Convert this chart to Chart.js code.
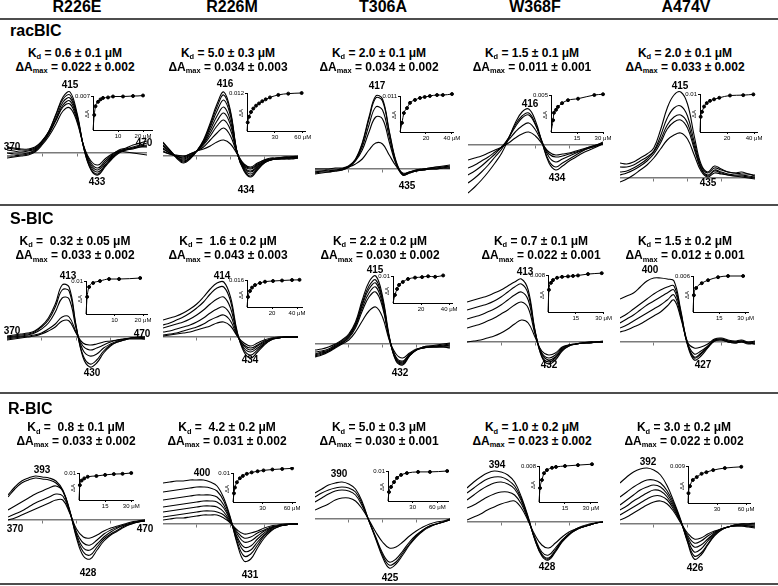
<!DOCTYPE html>
<html><head><meta charset="utf-8">
<script src="https://cdn.jsdelivr.net/npm/chart.js@4.4.1/dist/chart.umd.min.js"></script>
<style>
html,body{margin:0;padding:0;background:#fff;}
#fig{position:relative;width:778px;height:586px;overflow:hidden;font-family:"Liberation Sans",Arial,sans-serif;color:#000;background:#fff;}
.t{position:absolute;white-space:nowrap;font-weight:bold;line-height:1;}
.da{position:absolute;white-space:nowrap;font-size:6px;line-height:1;transform:translate(-50%,-50%) rotate(-90deg);}
.rule{position:absolute;left:0;width:778px;height:2px;background:#4d4d4d;}
canvas{position:absolute;}
.sb{font-size:0.62em;position:relative;top:0.32em;}
</style></head><body><div id="fig"></div>
<script>
// ---------------- DATA ----------------
const mutants = ['R226E', 'R226M', 'T306A', 'W368F', 'A474V'];
const ligands = ['racBIC', 'S-BIC', 'R-BIC'];
const wavelengths = [370,375,380,385,390,395,400,405,410,415,420,425,430,435,440,445,450,455,460,465,470];
const axisEnds = ['370', '470'];

const kdRac  = ['0.6 ± 0.1', '5.0 ± 0.3', '2.0 ± 0.1', '1.5 ± 0.1', '2.0 ± 0.1'];
const dAmaxRac = ['0.022 ± 0.002', '0.034 ± 0.003', '0.034 ± 0.002', '0.011 ± 0.001', '0.033 ± 0.002'];
const kdS   = [' 0.32 ± 0.05', ' 1.6 ± 0.2', '2.2 ± 0.2', '0.7 ± 0.1', '1.5 ± 0.2'];
const dAmaxS = ['0.033 ± 0.002', '0.043 ± 0.003', '0.030 ± 0.002', '0.022 ± 0.001', '0.012 ± 0.001'];
const kdR   = [' 0.8 ± 0.1', ' 4.2 ± 0.2', '5.0 ± 0.3', '1.0 ± 0.2', '3.0 ± 0.2'];
const dAmaxR = ['0.033 ± 0.002', '0.031 ± 0.002', '0.030 ± 0.001', '0.023 ± 0.002', '0.022 ± 0.002'];

// peak / trough wavelength labels (nm)
const peaksRac = [['415','433'], ['416','434'], ['417','435'], ['416','434'], ['415','435']];
const peaksS   = [['413','430'], ['414','434'], ['415','432'], ['413','432'], ['400','427']];
const peaksR   = [['393','428'], ['400','431'], ['390','425'], ['394','428'], ['392','426']];

// difference spectra (relative ΔA, arbitrary units), one array per titration step
const racR226E = [
 [3,2,1,2,4,11,22,39,56,61,40,4,-17,-22,-14,-6,0,3,5,7,8],
 [5,4,3,3,5,12,22,38,54,58,38,4,-16,-21,-13,-5,1,4,6,8,10],
 [0,-1,-1,0,3,10,20,35,51,55,37,5,-14,-19,-12,-4,1,3,4,6,7],
 [-3,-3,-2,-1,2,9,19,33,48,52,35,5,-12,-17,-10,-3,2,4,5,6,6],
 [6,5,4,4,6,12,21,33,46,49,33,6,-10,-15,-8,-2,3,5,8,10,12],
 [-5,-4,-3,-2,1,8,17,29,42,45,31,6,-8,-12,-6,-1,2,1,0,-1,-2]];
const racR226M = [
 [14,6,-2,-7,-3,5,16,33,52,64,45,3,-15,-21,-14,-7,-4,-3,-3,-3,-2],
 [13,6,-1,-6,-2,5,15,31,49,61,43,3,-14,-20,-13,-7,-4,-3,-3,-2,-2],
 [11,5,-1,-5,-2,5,14,29,45,56,40,3,-13,-18,-12,-6,-4,-3,-2,-2,-2],
 [10,4,-1,-4,-1,5,13,26,40,49,35,3,-12,-16,-11,-6,-3,-3,-2,-2,-1],
 [8,3,0,-3,0,5,12,23,35,43,31,3,-11,-15,-10,-5,-3,-2,-2,-1,-1],
 [7,3,0,-2,1,5,11,20,30,36,26,3,-10,-13,-9,-5,-3,-2,-2,-1,-1],
 [5,2,0,-1,2,5,9,16,23,28,20,2,-9,-12,-8,-4,-3,-2,-1,-1,-1],
 [4,2,1,0,2,5,7,10,14,16,12,2,-8,-11,-7,-4,-2,-2,-1,-1,0]];
const racT306A = [
 [-2,-2,-1,-1,0,3,10,26,52,73,70,38,8,-5,-3,-1,0,1,2,3,4],
 [-4,-3,-3,-2,-1,2,9,25,50,71,68,37,7,-6,-4,-2,-1,0,1,2,2],
 [0,0,0,1,1,3,9,22,44,62,59,32,6,-5,-3,-1,0,1,2,2,3],
 [-5,-4,-3,-2,-1,2,8,19,37,52,50,27,5,-6,-4,-2,-1,0,0,1,1],
 [-3,-2,-2,-1,0,2,5,10,19,26,25,14,3,-4,-3,-2,-1,0,0,1,1]];
const racW368F = [
 [-48,-42,-35,-27,-18,-8,6,22,33,36,24,2,-18,-25,-21,-16,-12,-8,-5,-2,1],
 [-38,-33,-27,-20,-12,-4,7,20,29,32,21,2,-16,-22,-18,-14,-10,-6,-3,-1,2],
 [-30,-26,-21,-15,-9,-2,7,18,27,30,20,3,-12,-17,-14,-11,-8,-5,-2,0,3],
 [-23,-20,-16,-12,-7,-2,5,13,19,22,15,2,-9,-12,-11,-9,-7,-5,-3,-1,1],
 [-15,-13,-11,-8,-5,-2,2,7,11,13,9,1,-7,-10,-9,-8,-6,-4,-2,0,2]];
const racA474V = [
 [15,14,16,20,24,30,48,70,83,86,74,42,14,6,12,9,6,5,6,4,3],
 [11,11,13,17,21,27,42,60,70,72,62,36,12,5,10,8,6,5,4,4,2],
 [6,7,10,14,19,26,38,53,61,63,55,32,10,3,8,6,4,3,3,2,1],
 [3,5,8,12,17,24,35,49,56,58,50,29,9,2,7,5,3,2,2,1,0],
 [-4,-1,3,8,13,20,29,38,43,45,39,23,7,1,5,4,3,2,1,0,-1]];

const sR226E = [
 [1,2,3,4,6,11,19,33,52,50,12,-20,-30,-26,-16,-9,-5,-3,-1,0,0],
 [0,1,2,3,5,10,17,30,47,46,11,-18,-27,-23,-14,-8,-5,-3,-1,-1,0],
 [-1,0,1,2,4,8,14,25,39,38,9,-13,-19,-17,-11,-7,-4,-2,-1,-1,-1],
 [-2,-1,0,1,2,4,8,13,20,20,5,-9,-13,-11,-8,-5,-3,-2,-1,-1,-2],
 [-3,-2,-1,0,1,3,6,10,16,16,4,-6,-8,-7,-5,-4,-3,-2,-2,-2,-2]];
const sR226M = [
 [17,19,21,24,28,33,40,48,54,55,40,5,-15,-21,-15,-8,-3,-1,0,0,0],
 [12,14,17,20,24,29,35,43,49,50,36,4,-13,-18,-13,-7,-3,-1,0,0,0],
 [9,11,13,15,18,22,27,33,38,40,29,3,-11,-15,-11,-6,-2,-1,0,0,0],
 [5,6,8,10,12,15,19,24,28,30,22,2,-9,-13,-9,-5,-2,-1,0,0,0],
 [2,3,4,6,8,10,13,17,20,22,16,1,-8,-11,-8,-4,-2,-1,0,0,0],
 [1,2,3,4,5,7,9,11,14,15,11,1,-6,-9,-6,-3,-1,0,0,0,0]];
const sT306A = [
 [-6,-5,-3,0,4,10,22,44,62,68,48,8,-17,-21,-12,-6,-3,-2,-1,0,1],
 [-8,-7,-5,-1,3,9,20,41,58,64,45,7,-16,-20,-12,-6,-3,-2,-2,-1,0],
 [-10,-8,-6,-2,2,8,19,39,55,61,43,6,-15,-19,-11,-6,-4,-3,-2,-2,-1],
 [-11,-9,-7,-3,1,7,18,36,51,57,40,6,-14,-18,-11,-6,-4,-3,-3,-2,-2],
 [-12,-10,-7,-3,1,6,16,33,47,52,37,5,-13,-17,-10,-6,-4,-3,-3,-3,-3],
 [-13,-11,-8,-4,0,4,12,23,33,37,27,4,-10,-14,-9,-5,-4,-3,-3,-3,-4]];
const sW368F = [
 [40,42,44,46,49,52,56,60,63,52,12,-15,-22,-18,-9,-4,-2,-1,0,0,0],
 [32,34,36,38,41,45,50,55,58,48,11,-14,-20,-16,-8,-4,-2,-1,0,0,0],
 [23,25,27,30,33,37,42,47,50,42,10,-12,-18,-15,-7,-3,-2,-1,-1,0,0],
 [14,16,18,21,24,28,32,37,40,34,8,-11,-16,-13,-6,-3,-2,-1,-1,0,0],
 [0,1,2,4,6,9,13,18,22,19,5,-9,-13,-11,-5,-3,-2,-1,-1,0,1]];
const sA474V = [
 [43,46,49,55,61,64,64,63,61,32,0,-6,-5,-2,3,4,2,1,2,0,1],
 [24,28,33,38,43,48,52,55,56,30,-2,-16,-12,-5,2,3,1,0,1,-1,0],
 [19,23,27,32,37,41,45,49,52,28,-3,-18,-14,-6,1,2,0,-1,0,-2,-1],
 [14,17,21,25,29,33,37,42,47,26,-2,-15,-11,-5,1,2,0,-1,0,-1,-2],
 [10,12,15,18,22,26,30,36,42,24,-1,-12,-9,-4,2,3,1,0,1,-1,-2]];

const rR226E = [
 [25,33,39,42,44,43,42,39,30,10,-18,-36,-39,-30,-21,-15,-11,-7,-4,-2,-1],
 [23,31,37,40,42,41,40,37,29,9,-16,-32,-35,-27,-19,-14,-10,-6,-4,-2,-1],
 [10,14,18,22,26,29,32,34,29,9,-14,-28,-30,-24,-17,-12,-8,-5,-3,-2,-1],
 [3,6,9,13,17,20,23,26,24,8,-12,-23,-25,-20,-14,-10,-7,-5,-3,-1,0],
 [0,2,5,8,11,14,17,20,20,7,-9,-17,-18,-15,-11,-8,-6,-4,-2,-1,0]];
const rR226M = [
 [41,42,43,43,44,44,44,42,38,26,6,-20,-37,-35,-24,-14,-7,-3,-1,0,0],
 [32,33,34,35,36,37,37,36,33,23,5,-18,-32,-30,-21,-12,-6,-3,-1,0,0],
 [24,25,26,27,28,29,29,29,27,19,4,-15,-27,-26,-18,-11,-5,-2,-1,0,0],
 [17,18,19,20,21,22,23,23,22,16,3,-13,-23,-22,-15,-9,-4,-2,-1,0,0],
 [12,13,14,15,16,17,18,18,17,12,2,-10,-18,-17,-12,-7,-4,-2,-1,0,0],
 [7,8,9,10,11,12,13,13,12,9,1,-8,-14,-13,-9,-6,-3,-2,-1,0,0],
 [4,5,6,6,7,8,9,9,9,6,1,-6,-10,-9,-7,-4,-2,-1,0,0,0]];
const rT306A = [
 [26,30,34,36,37,35,30,17,-2,-20,-38,-49,-45,-36,-26,-18,-12,-8,-5,-3,0],
 [22,26,29,31,32,31,27,15,-2,-19,-36,-46,-43,-34,-25,-17,-11,-7,-5,-3,-1],
 [17,21,25,28,29,28,24,13,-2,-18,-34,-43,-40,-32,-23,-16,-11,-7,-5,-3,-1],
 [9,12,15,19,21,21,18,10,-1,-13,-23,-29,-28,-23,-17,-12,-8,-5,-3,-2,0]];
const rW368F = [
 [34,40,45,49,51,50,47,40,25,5,-18,-34,-38,-30,-20,-13,-8,-5,-3,-1,0],
 [29,34,39,43,45,45,42,36,23,4,-18,-33,-37,-29,-19,-12,-8,-5,-3,-1,0],
 [22,27,32,36,39,40,38,33,21,3,-17,-32,-36,-28,-19,-12,-8,-5,-3,-1,0],
 [14,17,21,25,28,30,30,27,18,2,-16,-30,-33,-26,-18,-12,-7,-5,-3,-1,0],
 [2,5,8,12,15,18,20,21,14,1,-13,-23,-26,-21,-15,-10,-7,-4,-2,-1,0]];
const rA474V = [
 [41,47,52,55,56,54,49,38,22,4,-18,-35,-31,-21,-12,-6,-3,-1,0,0,1],
 [27,32,37,41,44,44,41,33,20,3,-17,-32,-29,-20,-11,-6,-3,-1,0,0,0],
 [19,24,29,34,37,39,37,30,18,3,-15,-28,-25,-17,-10,-5,-3,-1,-1,-1,-1],
 [14,18,23,27,31,34,33,27,16,2,-13,-23,-21,-15,-9,-5,-3,-2,-1,-2,-2],
 [9,13,17,21,25,28,28,24,14,2,-11,-19,-17,-12,-8,-5,-3,-2,-2,-2,-3],
 [4,7,11,15,19,22,23,20,12,1,-9,-15,-14,-10,-7,-5,-3,-2,-2,-3,-4]];

// titration insets: ligand concentration (µM) and ΔA
const racR226E_c = [0.5,1,2,3,4,6,8,12,16,20];
const racR226E_dA = [0.0031,0.0049,0.0058,0.0063,0.0066,0.0067,0.0069,0.0069,0.007,0.0071];
const racR226M_c = [0.75,2.2,4.3,6.8,9.7,12.9,16.4,20.1,24.7,33.7,44.4,58.8];
const racR226M_dA = [0.0027,0.0045,0.006,0.0071,0.008,0.0087,0.0094,0.01,0.0106,0.0114,0.0118,0.012];
const racT306A_c = [1.5,3,5.4,7.7,11.5,15.4,19,23,28.5,33,40];
const racT306A_dA = [0.0028,0.0058,0.0073,0.0089,0.0098,0.0104,0.0107,0.011,0.0113,0.0113,0.0116];
const racW368F_c = [1.2,1.7,2.9,4,6.4,9.8,15.6,25,30];
const racW368F_dA = [0.0016,0.0026,0.003,0.0034,0.0039,0.0043,0.0045,0.005,0.0051];
const racA474V_c = [0.5,1.5,3,5,7.4,10.4,14.3,22.2,32,39.5];
const racA474V_dA = [0.004,0.0053,0.0067,0.0076,0.0082,0.0086,0.009,0.0096,0.0097,0.0099];
const sR226E_c = [0.4,1.1,2.5,4.9,8.1,11.6,19];
const sR226E_dA = [0.0052,0.0082,0.0094,0.01,0.0106,0.0106,0.0109];
const sR226M_c = [0.8,2.4,4,6.4,10.4,14.4,20.8,28,36,42];
const sR226M_dA = [0.006,0.0095,0.0115,0.013,0.0142,0.015,0.0154,0.0157,0.016,0.0161];
const sT306A_c = [1.4,2.9,4.3,7,10.7,15.7,20.7,25,30,35.7];
const sT306A_dA = [0.003,0.0052,0.0067,0.0078,0.0089,0.0094,0.0096,0.0099,0.0097,0.0102];
const sW368F_c = [0.5,1.6,2.7,4.9,7.6,10.8,13.5,16.2,21.6,29];
const sW368F_dA = [0.0048,0.0063,0.0069,0.0074,0.0076,0.0077,0.0078,0.0079,0.0082,0.0084];
const sA474V_c = [0.5,1.8,5,8.6,14.3,20,28.6];
const sA474V_dA = [0.0028,0.004,0.0048,0.0053,0.0058,0.006,0.006];
const rR226E_c = [0.5,1.5,3,5,10,15,20,25,30];
const rR226E_dA = [0.0055,0.0072,0.008,0.0086,0.0089,0.0093,0.0096,0.0097,0.01];
const rR226M_c = [1,2,4,7,10,14,19,25,31,40,50,60];
const rR226M_dA = [0.003,0.005,0.0068,0.0082,0.009,0.0097,0.0102,0.0106,0.0109,0.0112,0.0114,0.0116];
const rT306A_c = [1.2,3.7,7.3,11,15.9,23,36.6,51,72];
const rT306A_dA = [0.003,0.0047,0.0063,0.0077,0.0087,0.0093,0.0097,0.0097,0.01];
const rW368F_c = [0.6,1.7,2.9,4.6,7.5,9.8,15,22.5,30.6];
const rW368F_dA = [0.0031,0.0049,0.0064,0.0071,0.0076,0.0078,0.008,0.0082,0.0084];
const rA474V_c = [0.5,2,5,9,14,19,26,38,55];
const rA474V_dA = [0.0024,0.0041,0.0056,0.0063,0.0071,0.0075,0.008,0.0085,0.0088];

// inset axis tick values
const insetTopTicks = [[0.007,0.012,0.011,0.005,0.01],[0.01,0.016,0.01,0.008,0.006],[0.01,0.01,0.01,0.008,0.009]];
const insetXTicks = [[[10,20],[30,60],[20,40],[15,30],[20,40]],[[10,20],[20,40],[20,40],[15,30],[15,30]],[[15,30],[30,60],[30,60],[15,30],[30,60]]];

// ---------------- LAYOUT ----------------
const FONT = '"Liberation Sans", Arial, sans-serif';
const fig = document.getElementById('fig');
const rows = [
 { label: ligands[0], labelX: 10, labelBase: 36.7, kd: kdRac, dA: dAmaxRac, kdBase: 57, dABase: 71, centers: [75,228,379,532,685], peaks: peaksRac,
   spectra: [racR226E, racR226M, racT306A, racW368F, racA474V],
   conc: [racR226E_c, racR226M_c, racT306A_c, racW368F_c, racA474V_c],
   resp: [racR226E_dA, racR226M_dA, racT306A_dA, racW368F_dA, racA474V_dA],
   panels: [{x0:7,x1:147,base:153},{x0:163,x1:298,base:156},{x0:315,x1:450,base:169},{x0:468,x1:603,base:145},{x0:620,x1:755,base:178}],
   peakPos: [[[70,85],[97,182]],[[225,84],[246,190]],[[377,86],[407,186]],[[530,104],[557,178]],[[680,86],[708,183]]],
   endPos: [[12,147],[144,143]],
   insets: [{x0:93,x1:152,yT:96,yB:130,xMax:23.6},{x0:247,x1:305,yT:93,yB:131,xMax:62.4},{x0:400,x1:453,yT:96,yB:132,xMax:40.8},{x0:551,x1:603,yT:95,yB:132,xMax:30},{x0:700,x1:757,yT:94,yB:132,xMax:42.2}] },
 { label: ligands[1], labelX: 10, labelBase: 225, kd: kdS, dA: dAmaxS, kdBase: 245, dABase: 259.5, centers: [75,228,380,541,685], peaks: peaksS,
   spectra: [sR226E, sR226M, sT306A, sW368F, sA474V],
   conc: [sR226E_c, sR226M_c, sT306A_c, sW368F_c, sA474V_c],
   resp: [sR226E_dA, sR226M_dA, sT306A_dA, sW368F_dA, sA474V_dA],
   panels: [{x0:7,x1:145,base:337},{x0:163,x1:298,base:337},{x0:315,x1:450,base:344},{x0:467,x1:603,base:342},{x0:620,x1:755,base:342}],
   peakPos: [[[68,276],[92,373]],[[222,276],[250,360]],[[375,270],[400,373]],[[525,272],[549,365]],[[650,270],[703,365]]],
   endPos: [[12,331],[142,334]],
   insets: [{x0:86,x1:147,yT:281,yB:314,xMax:21.4},{x0:247,x1:302,yT:280,yB:307,xMax:44},{x0:393,x1:452,yT:276,yB:303,xMax:42},{x0:548,x1:603,yT:275,yB:312,xMax:29.7},{x0:693,x1:748,yT:276,yB:312,xMax:31.4}] },
 { label: ligands[2], labelX: 8, labelBase: 415, kd: kdR, dA: dAmaxR, kdBase: 431.5, dABase: 445, centers: [76,227,379,532,684], peaks: peaksR,
   spectra: [rR226E, rR226M, rT306A, rW368F, rA474V],
   conc: [rR226E_c, rR226M_c, rT306A_c, rW368F_c, rA474V_c],
   resp: [rR226E_dA, rR226M_dA, rT306A_dA, rW368F_dA, rA474V_dA],
   panels: [{x0:8,x1:145,base:520},{x0:163,x1:298,base:524},{x0:315,x1:450,base:519},{x0:467,x1:603,base:522},{x0:620,x1:755,base:524}],
   peakPos: [[[42,470],[88,573]],[[202,473],[250,575]],[[339,474],[390,578]],[[497,465],[547,567]],[[648,462],[695,568]]],
   endPos: [[15,529],[145,529]],
   insets: [{x0:79,x1:133,yT:473,yB:500,xMax:31},{x0:233,x1:295,yT:473,yB:502,xMax:63},{x0:388,x1:448,yT:471,yB:501,xMax:73},{x0:539,x1:597,yT:466,yB:502,xMax:33.5},{x0:688,x1:750,yT:466,yB:503,xMax:64}] }
];
const headerCenters = [77,232,383,535,686];
const ruleYs = [18, 204, 392, 583];

function addText(html, x, baseline, size, center) {
  const d = document.createElement('div');
  d.className = 't';
  d.innerHTML = html;
  d.style.fontSize = size + 'px';
  d.style.top = (baseline - 0.85 * size) + 'px';
  fig.appendChild(d);
  const w = d.getBoundingClientRect().width;
  d.style.left = (center ? x - w / 2 : x) + 'px';
  return d;
}
function makeCanvas(left, top, w, h) {
  const c = document.createElement('canvas');
  c.width = w; c.height = h;
  c.style.left = left + 'px'; c.style.top = top + 'px';
  c.style.width = w + 'px'; c.style.height = h + 'px';
  fig.appendChild(c);
  return c;
}

ruleYs.forEach(y => { const r = document.createElement('div'); r.className = 'rule'; r.style.top = y + 'px'; fig.appendChild(r); });
mutants.forEach((m, i) => addText(m, headerCenters[i], 12.5, 16, true));

const SP_TOP = 95, SP_BOT = 60;
function spectraChart(p, curves) {
  const c = makeCanvas(p.x0, p.base - SP_TOP, p.x1 - p.x0, SP_TOP + SP_BOT);
  new Chart(c, {
    type: 'line',
    data: { datasets: curves.map(v => ({
      data: v.map((y, i) => ({ x: wavelengths[i], y })),
      borderColor: '#000', borderWidth: 1.1, pointRadius: 0, tension: 0.4, fill: false })) },
    options: {
      responsive: false, animation: false, devicePixelRatio: 1, events: [],
      layout: { padding: 0 },
      plugins: { legend: { display: false }, tooltip: { enabled: false } },
      scales: {
        x: { type: 'linear', min: 370, max: 470, position: { y: 0 },
             afterFit: s => { s.height = 0; },
             afterBuildTicks: s => { s.ticks = [395, 420, 445].map(v => ({ value: v })); },
             ticks: { display: false },
             grid: { drawOnChartArea: false, drawTicks: true, tickLength: 3, color: '#7a7a7a', lineWidth: 1 },
             border: { display: true, color: '#7a7a7a', width: 1.5 } },
        y: { type: 'linear', min: -SP_BOT, max: SP_TOP, display: false }
      }
    }
  });
}

const PL = 2, YW = 24, PT = 6, PR = 14, XH = 11;
function insetChart(q, conc, resp, yTop, xTicks) {
  const c = makeCanvas(q.x0 - PL - YW, q.yT - PT, (q.x1 - q.x0) + PL + YW + PR, (q.yB - q.yT) + PT + XH);
  const pts = conc.map((x, i) => ({ x, y: resp[i] }));
  const tickFont = { size: 6, family: FONT };
  new Chart(c, {
    type: 'scatter',
    data: { datasets: [
      { type: 'line', data: [{ x: 0, y: 0 }].concat(pts), borderColor: '#000', borderWidth: 1, pointRadius: 0,
        cubicInterpolationMode: 'monotone', fill: false, clip: false },
      { data: pts, backgroundColor: '#000', borderColor: '#000', pointRadius: 1.5, clip: false }
    ] },
    options: {
      responsive: false, animation: false, devicePixelRatio: 1, events: [],
      layout: { padding: { left: PL, top: PT, right: PR, bottom: 0 } },
      plugins: { legend: { display: false }, tooltip: { enabled: false } },
      scales: {
        x: { type: 'linear', min: 0, max: q.xMax,
             afterFit: s => { s.height = XH; },
             afterBuildTicks: s => { s.ticks = xTicks.map(v => ({ value: v })); },
             ticks: { font: tickFont, color: '#000', padding: 1, maxRotation: 0, autoSkip: false,
                      callback: (v, i, arr) => i === arr.length - 1 ? v + ' μM' : String(v) },
             grid: { drawOnChartArea: false, tickLength: 2, color: '#000' },
             border: { display: true, color: '#000', width: 1 } },
        y: { type: 'linear', min: 0, max: yTop,
             afterFit: s => { s.width = YW; },
             afterBuildTicks: s => { s.ticks = [{ value: yTop }]; },
             ticks: { font: tickFont, color: '#000', padding: 1, callback: v => String(v) },
             grid: { drawOnChartArea: false, tickLength: 2, color: '#000' },
             border: { display: true, color: '#000', width: 1 } }
      }
    }
  });
  // rotated y-axis title
  const d = document.createElement('div');
  d.className = 'da';
  d.textContent = 'ΔA';
  d.style.left = (q.x0 - 6) + 'px';
  d.style.top = ((q.yT + q.yB) / 2 + 1) + 'px';
  fig.appendChild(d);
}

rows.forEach((row, r) => {
  addText(row.label, row.labelX, row.labelBase, 16, false);
  for (let i = 0; i < 5; i++) {
    const sp = row.kd[i].startsWith(' ') ? '&nbsp; ' : ' ';
    addText('K<span class="sb">d</span> =' + sp + row.kd[i].trim() + ' μM', row.centers[i], row.kdBase, 12, true);
    addText('ΔA<span class="sb">max</span> = ' + row.dA[i], row.centers[i], row.dABase, 12, true);
    spectraChart(row.panels[i], row.spectra[i]);
    insetChart(row.insets[i], row.conc[i], row.resp[i], insetTopTicks[r][i], insetXTicks[r][i]);
    row.peaks[i].forEach((lab, k) => {
      const pos = row.peakPos[i][k];
      addText(lab, pos[0], pos[1] + 3.6, 10, true);
    });
  }
  axisEnds.forEach((lab, k) => addText(lab, row.endPos[k][0], row.endPos[k][1] + 3.6, 10, true));
});
</script></body></html>
